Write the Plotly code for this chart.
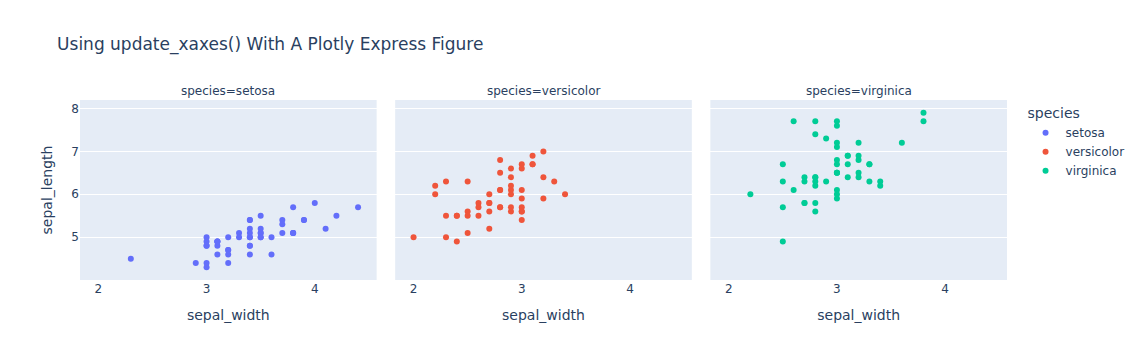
import pandas as pd
import plotly.express as px

setosa_sepal_length = [5.1, 4.9, 4.7, 4.6, 5.0, 5.4, 4.6, 5.0, 4.4, 4.9, 5.4, 4.8, 4.8, 4.3, 5.8, 5.7, 5.4, 5.1, 5.7, 5.1,
                       5.4, 5.1, 4.6, 5.1, 4.8, 5.0, 5.0, 5.2, 5.2, 4.7, 4.8, 5.4, 5.2, 5.5, 4.9, 5.0, 5.5, 4.9, 4.4, 5.1,
                       5.0, 4.5, 4.4, 5.0, 5.1, 4.8, 5.1, 4.6, 5.3, 5.0]
setosa_sepal_width = [3.5, 3.0, 3.2, 3.1, 3.6, 3.9, 3.4, 3.4, 2.9, 3.1, 3.7, 3.4, 3.0, 3.0, 4.0, 4.4, 3.9, 3.5, 3.8, 3.8,
                      3.4, 3.7, 3.6, 3.3, 3.4, 3.0, 3.4, 3.5, 3.4, 3.2, 3.1, 3.4, 4.1, 4.2, 3.1, 3.2, 3.5, 3.1, 3.0, 3.4,
                      3.5, 2.3, 3.2, 3.5, 3.8, 3.0, 3.8, 3.2, 3.7, 3.3]
versicolor_sepal_length = [7.0, 6.4, 6.9, 5.5, 6.5, 5.7, 6.3, 4.9, 6.6, 5.2, 5.0, 5.9, 6.0, 6.1, 5.6, 6.7, 5.6, 5.8, 6.2, 5.6,
                           5.9, 6.1, 6.3, 6.1, 6.4, 6.6, 6.8, 6.7, 6.0, 5.7, 5.5, 5.5, 5.8, 6.0, 5.4, 6.0, 6.7, 6.3, 5.6, 5.5,
                           5.5, 6.1, 5.8, 5.0, 5.6, 5.7, 5.7, 6.2, 5.1, 5.7]
versicolor_sepal_width = [3.2, 3.2, 3.1, 2.3, 2.8, 2.8, 3.3, 2.4, 2.9, 2.7, 2.0, 3.0, 2.2, 2.9, 2.9, 3.1, 3.0, 2.7, 2.2, 2.5,
                          3.2, 2.8, 2.5, 2.8, 2.9, 3.0, 2.8, 3.0, 2.9, 2.6, 2.4, 2.4, 2.7, 2.7, 3.0, 3.4, 3.1, 2.3, 3.0, 2.5,
                          2.6, 3.0, 2.6, 2.3, 2.7, 3.0, 2.9, 2.9, 2.5, 2.8]
virginica_sepal_length = [6.3, 5.8, 7.1, 6.3, 6.5, 7.6, 4.9, 7.3, 6.7, 7.2, 6.5, 6.4, 6.8, 5.7, 5.8, 6.4, 6.5, 7.7, 7.7, 6.0,
                          6.9, 5.6, 7.7, 6.3, 6.7, 7.2, 6.2, 6.1, 6.4, 7.2, 7.4, 7.9, 6.4, 6.3, 6.1, 7.7, 6.3, 6.4, 6.0, 6.9,
                          6.7, 6.9, 5.8, 6.8, 6.7, 6.7, 6.3, 6.5, 6.2, 5.9]
virginica_sepal_width = [3.3, 2.7, 3.0, 2.9, 3.0, 3.0, 2.5, 2.9, 2.5, 3.6, 3.2, 2.7, 3.0, 2.5, 2.8, 3.2, 3.0, 3.8, 2.6, 2.2,
                         3.2, 2.8, 2.8, 2.7, 3.3, 3.2, 2.8, 3.0, 2.8, 3.0, 2.8, 3.8, 2.8, 2.8, 2.6, 3.0, 3.4, 3.1, 3.0, 3.1,
                         3.1, 3.1, 2.7, 3.2, 3.3, 3.0, 2.5, 3.0, 3.4, 3.0]

species = ["setosa", "versicolor", "virginica"]
lengths = [setosa_sepal_length, versicolor_sepal_length, virginica_sepal_length]
widths = [setosa_sepal_width, versicolor_sepal_width, virginica_sepal_width]

rows = []
for sp, ls, ws in zip(species, lengths, widths):
    for l, w in zip(ls, ws):
        rows.append({"sepal_width": w, "sepal_length": l, "species": sp})
df = pd.DataFrame(rows)

fig = px.scatter(df, x="sepal_width", y="sepal_length", facet_col="species", color="species",
                 title="Using update_xaxes() With A Plotly Express Figure")
fig.update_xaxes(showgrid=False)
fig.update_layout(width=1142, height=360, font=dict(family="Verdana, DejaVu Sans, sans-serif"))
fig.write_html("out.html", config={"displayModeBar": False},
               post_script="document.body.style.margin='0';")
